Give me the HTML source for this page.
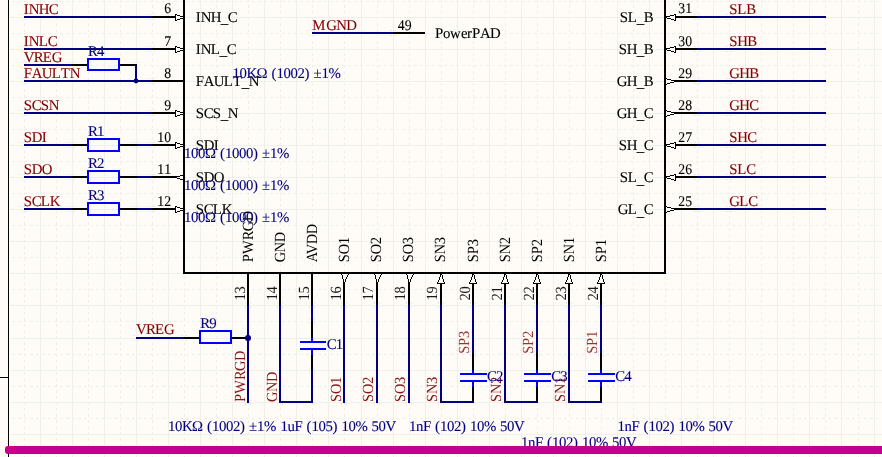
<!DOCTYPE html>
<html lang="en">
<head>
<meta charset="utf-8">
<title>Schematic</title>
<style>
html,body{margin:0;padding:0;background:#FFFCF8;overflow:hidden}
svg{display:block;position:absolute;left:0;top:0}
svg text{font-family:"Liberation Serif","Times New Roman",serif;font-size:14.8px;white-space:pre;font-kerning:none;font-variant-ligatures:none;text-rendering:geometricPrecision;stroke-width:.1px;stroke-linejoin:round}
svg text.r{font-size:15.5px;fill-opacity:.92}
svg text.lt{fill-opacity:.8}
svg text.pn{fill-opacity:1}
svg text.pd{fill-opacity:.9}
svg .d{stroke:#EEF0EA;stroke-width:1;stroke-dasharray:3 3;fill:none}
svg .aa{shape-rendering:geometricPrecision}
</style>
</head>
<body>
<svg width="882" height="457" viewBox="0 0 882 457" shape-rendering="crispEdges">
<defs><path id="vd" d="M0 -1h1v3h-1zM0 5h1v3h-1zM0 11h1v3h-1zM0 17h1v3h-1zM0 23h1v3h-1zM0 29h1v3h-1zM0 35h1v3h-1zM0 41h1v3h-1zM0 47h1v3h-1zM0 53h1v3h-1zM0 59h1v3h-1zM0 65h1v3h-1zM0 71h1v3h-1zM0 77h1v3h-1zM0 83h1v3h-1zM0 89h1v3h-1zM0 95h1v3h-1zM0 101h1v3h-1zM0 107h1v3h-1zM0 113h1v3h-1zM0 119h1v3h-1zM0 125h1v3h-1zM0 131h1v3h-1zM0 137h1v3h-1zM0 143h1v3h-1zM0 150h1v3h-1zM0 156h1v3h-1zM0 162h1v3h-1zM0 168h1v3h-1zM0 174h1v3h-1zM0 180h1v3h-1zM0 186h1v3h-1zM0 192h1v3h-1zM0 198h1v3h-1zM0 204h1v3h-1zM0 210h1v3h-1zM0 216h1v3h-1zM0 222h1v3h-1zM0 228h1v3h-1zM0 234h1v3h-1zM0 240h1v3h-1zM0 246h1v3h-1zM0 252h1v3h-1zM0 258h1v3h-1zM0 264h1v3h-1zM0 270h1v3h-1zM0 276h1v3h-1zM0 282h1v3h-1zM0 288h1v3h-1zM0 294h1v3h-1zM0 300h1v3h-1zM0 306h1v3h-1zM0 312h1v3h-1zM0 318h1v3h-1zM0 324h1v3h-1zM0 330h1v3h-1zM0 336h1v3h-1zM0 342h1v3h-1zM0 348h1v3h-1zM0 354h1v3h-1zM0 360h1v3h-1zM0 366h1v3h-1zM0 372h1v3h-1zM0 378h1v3h-1zM0 384h1v3h-1zM0 390h1v3h-1zM0 396h1v3h-1zM0 402h1v3h-1zM0 408h1v3h-1zM0 414h1v3h-1zM0 420h1v3h-1zM0 426h1v3h-1zM0 432h1v3h-1zM0 438h1v3h-1zM0 444h1v3h-1zM0 450h1v3h-1zM0 456h1v3h-1z"/></defs>
<g fill="#EEF0EA" stroke="none"><use href="#vd" x="24"/><rect x="40" y="0" width="1" height="457"/><use href="#vd" x="56"/><rect x="72" y="0" width="1" height="457"/><use href="#vd" x="88"/><rect x="104" y="0" width="1" height="457"/><use href="#vd" x="120"/><rect x="136" y="0" width="1" height="457"/><use href="#vd" x="152"/><rect x="168" y="0" width="1" height="457"/><use href="#vd" x="184"/><rect x="200" y="0" width="1" height="457"/><use href="#vd" x="216"/><rect x="232" y="0" width="1" height="457"/><use href="#vd" x="248"/><rect x="264" y="0" width="1" height="457"/><use href="#vd" x="280"/><rect x="296" y="0" width="1" height="457"/><use href="#vd" x="312"/><rect x="328" y="0" width="1" height="457"/><use href="#vd" x="344"/><rect x="361" y="0" width="1" height="457"/><use href="#vd" x="377"/><rect x="393" y="0" width="1" height="457"/><use href="#vd" x="409"/><rect x="425" y="0" width="1" height="457"/><use href="#vd" x="441"/><rect x="457" y="0" width="1" height="457"/><use href="#vd" x="473"/><rect x="489" y="0" width="1" height="457"/><use href="#vd" x="505"/><rect x="521" y="0" width="1" height="457"/><use href="#vd" x="537"/><rect x="553" y="0" width="1" height="457"/><use href="#vd" x="569"/><rect x="585" y="0" width="1" height="457"/><use href="#vd" x="601"/><rect x="617" y="0" width="1" height="457"/><use href="#vd" x="633"/><rect x="649" y="0" width="1" height="457"/><use href="#vd" x="665"/><rect x="681" y="0" width="1" height="457"/><use href="#vd" x="697"/><rect x="713" y="0" width="1" height="457"/><use href="#vd" x="729"/><rect x="745" y="0" width="1" height="457"/><use href="#vd" x="761"/><rect x="777" y="0" width="1" height="457"/><use href="#vd" x="793"/><rect x="809" y="0" width="1" height="457"/><use href="#vd" x="825"/><rect x="841" y="0" width="1" height="457"/><use href="#vd" x="858"/><rect x="874" y="0" width="1" height="457"/><line x1="12" y1="1.5" x2="882" y2="1.5" class="d"/><rect x="10" y="17" width="872" height="1"/><line x1="12" y1="33.5" x2="882" y2="33.5" class="d"/><rect x="10" y="49" width="872" height="1"/><line x1="12" y1="65.5" x2="882" y2="65.5" class="d"/><rect x="10" y="81" width="872" height="1"/><line x1="12" y1="97.5" x2="882" y2="97.5" class="d"/><rect x="10" y="113" width="872" height="1"/><line x1="12" y1="129.5" x2="882" y2="129.5" class="d"/><rect x="10" y="145" width="872" height="1"/><line x1="12" y1="161.5" x2="882" y2="161.5" class="d"/><rect x="10" y="177" width="872" height="1"/><line x1="12" y1="193.5" x2="882" y2="193.5" class="d"/><rect x="10" y="209" width="872" height="1"/><line x1="12" y1="225.5" x2="882" y2="225.5" class="d"/><rect x="10" y="241" width="872" height="1"/><line x1="12" y1="257.5" x2="882" y2="257.5" class="d"/><rect x="10" y="273" width="872" height="1"/><line x1="12" y1="289.5" x2="882" y2="289.5" class="d"/><rect x="10" y="305" width="872" height="1"/><line x1="12" y1="321.5" x2="882" y2="321.5" class="d"/><rect x="10" y="338" width="872" height="1"/><line x1="12" y1="354.5" x2="882" y2="354.5" class="d"/><rect x="10" y="370" width="872" height="1"/><line x1="12" y1="386.5" x2="882" y2="386.5" class="d"/><rect x="10" y="402" width="872" height="1"/><line x1="12" y1="418.5" x2="882" y2="418.5" class="d"/><rect x="10" y="434" width="872" height="1"/><line x1="12" y1="450.5" x2="882" y2="450.5" class="d"/></g>
<rect x="8" y="0" width="1" height="457" fill="#000000"/>
<rect x="0" y="377" width="8" height="1" fill="#000000"/>
<rect x="24" y="16" width="128" height="2" fill="#000080"/>
<rect x="152" y="16" width="32" height="2" fill="#000000"/>
<path d="M149 14h2v1h-2zM153 14h2v1h-2zM149 19h2v1h-2zM153 19h2v1h-2z" fill="#E3EBF6"/>
<path d="M21 14h2v1h-2zM25 14h2v1h-2zM21 19h2v1h-2zM25 19h2v1h-2z" fill="#E3EBF6"/>
<text x="0 5 15 25" y="0" fill="#800000" stroke="#800000" transform="translate(23.747 13.675)">INHC</text>
<text x="-7.263" y="0" fill="#000000" stroke="#000000" transform="translate(170.967 13.475) scale(0.93 1)">6</text>
<text x="0 5 15 25 32" y="0" dy="0 0 0 1.4 -1.4" fill="#000000" stroke="#000000" transform="translate(195.867 21.775)">INH_C</text>
<path d="M176 15h7v5h-7z" fill="#FFFCF8"/>
<path d="M175 14h1v7h-1zM176 14h1v1h-1zM176 20h1v1h-1zM177 15h3v1h-3zM180 16h3v1h-3zM180 18h3v1h-3zM177 19h3v1h-3z" fill="#000000"/>
<rect x="24" y="48" width="128" height="2" fill="#000080"/>
<rect x="152" y="48" width="32" height="2" fill="#000000"/>
<path d="M149 46h2v1h-2zM153 46h2v1h-2zM149 51h2v1h-2zM153 51h2v1h-2z" fill="#E3EBF6"/>
<path d="M21 46h2v1h-2zM25 46h2v1h-2zM21 51h2v1h-2zM25 51h2v1h-2z" fill="#E3EBF6"/>
<text x="0 5 15 24" y="0" fill="#800000" stroke="#800000" transform="translate(23.747 45.739)">INLC</text>
<text x="-7.263" y="0" fill="#000000" stroke="#000000" transform="translate(170.967 45.539) scale(0.93 1)">7</text>
<text x="0 5 15 24 31" y="0" dy="0 0 0 1.4 -1.4" fill="#000000" stroke="#000000" transform="translate(195.867 53.839)">INL_C</text>
<path d="M176 47h7v5h-7z" fill="#FFFCF8"/>
<path d="M175 46h1v7h-1zM176 46h1v1h-1zM176 52h1v1h-1zM177 47h3v1h-3zM180 48h3v1h-3zM180 50h3v1h-3zM177 51h3v1h-3z" fill="#000000"/>
<rect x="24" y="80" width="128" height="2" fill="#000080"/>
<rect x="152" y="80" width="32" height="2" fill="#000000"/>
<path d="M149 78h2v1h-2zM153 78h2v1h-2zM149 83h2v1h-2zM153 83h2v1h-2z" fill="#E3EBF6"/>
<path d="M21 78h2v1h-2zM25 78h2v1h-2zM21 83h2v1h-2zM25 83h2v1h-2z" fill="#E3EBF6"/>
<text x="0 8 18 28 37 46" y="0" fill="#800000" stroke="#800000" transform="translate(23.747 77.803)">FAULTN</text>
<text x="-7.263" y="0" fill="#000000" stroke="#000000" transform="translate(170.967 77.603) scale(0.93 1)">8</text>
<text x="0 8 18 28 37 46 53" y="0" dy="0 0 0 0 0 1.4 -1.4" fill="#000000" stroke="#000000" transform="translate(195.867 85.903)">FAULT_N</text>
<rect x="24" y="112" width="128" height="2" fill="#000080"/>
<rect x="152" y="112" width="32" height="2" fill="#000000"/>
<path d="M149 110h2v1h-2zM153 110h2v1h-2zM149 115h2v1h-2zM153 115h2v1h-2z" fill="#E3EBF6"/>
<path d="M21 110h2v1h-2zM25 110h2v1h-2zM21 115h2v1h-2zM25 115h2v1h-2z" fill="#E3EBF6"/>
<text x="0 8 17 25" y="0" fill="#800000" stroke="#800000" transform="translate(23.747 109.867)">SCSN</text>
<text x="-7.263" y="0" fill="#000000" stroke="#000000" transform="translate(170.967 109.667) scale(0.93 1)">9</text>
<text x="0 8 17 25 32" y="0" dy="0 0 0 1.4 -1.4" fill="#000000" stroke="#000000" transform="translate(195.867 117.967)">SCS_N</text>
<path d="M176 111h7v5h-7z" fill="#FFFCF8"/>
<path d="M175 110h1v7h-1zM176 110h1v1h-1zM176 116h1v1h-1zM177 111h3v1h-3zM180 112h3v1h-3zM180 114h3v1h-3zM177 115h3v1h-3z" fill="#000000"/>
<rect x="24" y="144" width="48" height="2" fill="#000080"/>
<rect x="72" y="144" width="16" height="2" fill="#000000"/>
<rect x="119" y="144" width="18" height="2" fill="#000000"/>
<rect x="88" y="139" width="31" height="12" fill="none" stroke="#0000FF" stroke-width="2"/>
<text x="0 9" y="0" fill="#000080" stroke="#000080" transform="translate(88.075 135.731)">R1</text>
<path d="M69 142h2v1h-2zM73 142h2v1h-2zM69 147h2v1h-2zM73 147h2v1h-2z" fill="#E3EBF6"/>
<path d="M133 142h2v1h-2zM137 142h2v1h-2zM133 147h2v1h-2zM137 147h2v1h-2z" fill="#E3EBF6"/>
<rect x="137" y="144" width="15" height="2" fill="#000080"/>
<rect x="152" y="144" width="32" height="2" fill="#000000"/>
<path d="M149 142h2v1h-2zM153 142h2v1h-2zM149 147h2v1h-2zM153 147h2v1h-2z" fill="#E3EBF6"/>
<path d="M21 142h2v1h-2zM25 142h2v1h-2zM21 147h2v1h-2zM25 147h2v1h-2z" fill="#E3EBF6"/>
<text x="0 8 18" y="0" fill="#800000" stroke="#800000" transform="translate(23.747 141.931)">SDI</text>
<text x="-14.79 -7.263" y="0" fill="#000000" stroke="#000000" transform="translate(170.967 141.731) scale(0.93 1)">10</text>
<text x="0 8 18" y="0" fill="#000000" stroke="#000000" transform="translate(195.867 150.031)">SDI</text>
<path d="M176 143h7v5h-7z" fill="#FFFCF8"/>
<path d="M175 142h1v7h-1zM176 142h1v1h-1zM176 148h1v1h-1zM177 143h3v1h-3zM180 144h3v1h-3zM180 146h3v1h-3zM177 147h3v1h-3z" fill="#000000"/>
<rect x="24" y="176" width="48" height="2" fill="#000080"/>
<rect x="72" y="176" width="16" height="2" fill="#000000"/>
<rect x="119" y="176" width="18" height="2" fill="#000000"/>
<rect x="88" y="171" width="31" height="12" fill="none" stroke="#0000FF" stroke-width="2"/>
<text x="0 9" y="0" fill="#000080" stroke="#000080" transform="translate(88.075 167.795)">R2</text>
<path d="M69 174h2v1h-2zM73 174h2v1h-2zM69 179h2v1h-2zM73 179h2v1h-2z" fill="#E3EBF6"/>
<path d="M133 174h2v1h-2zM137 174h2v1h-2zM133 179h2v1h-2zM137 179h2v1h-2z" fill="#E3EBF6"/>
<rect x="137" y="176" width="15" height="2" fill="#000080"/>
<rect x="152" y="176" width="32" height="2" fill="#000000"/>
<path d="M149 174h2v1h-2zM153 174h2v1h-2zM149 179h2v1h-2zM153 179h2v1h-2z" fill="#E3EBF6"/>
<path d="M21 174h2v1h-2zM25 174h2v1h-2zM21 179h2v1h-2zM25 179h2v1h-2z" fill="#E3EBF6"/>
<text x="0 8 18" y="0" fill="#800000" stroke="#800000" transform="translate(23.747 173.995)">SDO</text>
<text x="-14.79 -7.263" y="0" fill="#000000" stroke="#000000" transform="translate(170.967 173.795) scale(0.93 1)">11</text>
<text x="0 8 18" y="0" fill="#000000" stroke="#000000" transform="translate(195.867 182.095)">SDO</text>
<path d="M180 175h3v5h-3zM177 177h3v1h-3z" fill="#FFFCF8"/>
<path d="M180 175h3v1h-3zM177 178h3v1h-3zM180 179h3v1h-3z" fill="#000000"/>
<rect x="24" y="208" width="48" height="2" fill="#000080"/>
<rect x="72" y="208" width="16" height="2" fill="#000000"/>
<rect x="119" y="208" width="18" height="2" fill="#000000"/>
<rect x="88" y="203" width="31" height="12" fill="none" stroke="#0000FF" stroke-width="2"/>
<text x="0 9" y="0" fill="#000080" stroke="#000080" transform="translate(88.075 199.859)">R3</text>
<path d="M69 206h2v1h-2zM73 206h2v1h-2zM69 211h2v1h-2zM73 211h2v1h-2z" fill="#E3EBF6"/>
<path d="M133 206h2v1h-2zM137 206h2v1h-2zM133 211h2v1h-2zM137 211h2v1h-2z" fill="#E3EBF6"/>
<rect x="137" y="208" width="15" height="2" fill="#000080"/>
<rect x="152" y="208" width="32" height="2" fill="#000000"/>
<path d="M149 206h2v1h-2zM153 206h2v1h-2zM149 211h2v1h-2zM153 211h2v1h-2z" fill="#E3EBF6"/>
<path d="M21 206h2v1h-2zM25 206h2v1h-2zM21 211h2v1h-2zM25 211h2v1h-2z" fill="#E3EBF6"/>
<text x="0 8 17 26" y="0" fill="#800000" stroke="#800000" transform="translate(23.747 206.059)">SCLK</text>
<text x="-14.79 -7.263" y="0" fill="#000000" stroke="#000000" transform="translate(170.967 205.859) scale(0.93 1)">12</text>
<text x="0 8 17 26" y="0" fill="#000000" stroke="#000000" transform="translate(195.867 214.159)">SCLK</text>
<path d="M176 207h7v5h-7z" fill="#FFFCF8"/>
<path d="M175 206h1v7h-1zM176 206h1v1h-1zM176 212h1v1h-1zM177 207h3v1h-3zM180 208h3v1h-3zM180 210h3v1h-3zM177 211h3v1h-3z" fill="#000000"/>
<rect x="24" y="64" width="48" height="2" fill="#000080"/>
<rect x="72" y="64" width="16" height="2" fill="#000000"/>
<rect x="119" y="64" width="18" height="2" fill="#000000"/>
<rect x="88" y="59" width="31" height="11" fill="none" stroke="#0000FF" stroke-width="2"/>
<text x="0 9" y="0" fill="#000080" stroke="#000080" transform="translate(88.075 55.571)">R4</text>
<path d="M69 62h2v1h-2zM73 62h2v1h-2zM69 67h2v1h-2zM73 67h2v1h-2z" fill="#E3EBF6"/>
<path d="M133 62h2v1h-2zM137 62h2v1h-2zM133 67h2v1h-2zM137 67h2v1h-2z" fill="#E3EBF6"/>
<rect x="135" y="66" width="2" height="15" fill="#000080"/>
<circle cx="136" cy="81" r="2.4" fill="#000080" class="aa"/>
<path d="M21 62h2v1h-2zM25 62h2v1h-2zM21 67h2v1h-2zM25 67h2v1h-2z" fill="#E3EBF6"/>
<text x="0 10 19 28" y="0" fill="#800000" stroke="#800000" transform="translate(23.747 61.771)">VREG</text>
<rect x="697" y="16" width="129" height="2" fill="#000080"/>
<rect x="665" y="16" width="32" height="2" fill="#000000"/>
<path d="M694 14h2v1h-2zM698 14h2v1h-2zM694 19h2v1h-2zM698 19h2v1h-2z" fill="#E3EBF6"/>
<path d="M726 14h2v1h-2zM730 14h2v1h-2zM726 19h2v1h-2zM730 19h2v1h-2z" fill="#E3EBF6"/>
<text x="0 8 17" y="0" fill="#800000" stroke="#800000" transform="translate(729.255 13.675)">SLB</text>
<text x="0.2634 7.79" y="0" fill="#000000" stroke="#000000" transform="translate(678.127 13.475) scale(0.93 1)">31</text>
<text x="-33 -25 -16 -9" y="0" dy="0 0 1.4 -1.4" fill="#000000" stroke="#000000" transform="translate(652.827 21.775)">SL_B</text>
<path d="M666 15h9v5h-9z" fill="#FFFCF8"/>
<path d="M674 14h2v1h-2zM675 15h1v5h-1zM674 20h2v1h-2zM670 15h4v1h-4zM666 16h4v1h-4zM666 17h1v1h-1zM667 18h4v1h-4zM671 19h3v1h-3z" fill="#000000"/>
<rect x="697" y="48" width="129" height="2" fill="#000080"/>
<rect x="665" y="48" width="32" height="2" fill="#000000"/>
<path d="M694 46h2v1h-2zM698 46h2v1h-2zM694 51h2v1h-2zM698 51h2v1h-2z" fill="#E3EBF6"/>
<path d="M726 46h2v1h-2zM730 46h2v1h-2zM726 51h2v1h-2zM730 51h2v1h-2z" fill="#E3EBF6"/>
<text x="0 8 18" y="0" fill="#800000" stroke="#800000" transform="translate(729.255 45.739)">SHB</text>
<text x="0.2634 7.79" y="0" fill="#000000" stroke="#000000" transform="translate(678.127 45.539) scale(0.93 1)">30</text>
<text x="-34 -26 -16 -9" y="0" dy="0 0 1.4 -1.4" fill="#000000" stroke="#000000" transform="translate(652.827 53.839)">SH_B</text>
<path d="M666 47h9v5h-9z" fill="#FFFCF8"/>
<path d="M674 46h2v1h-2zM675 47h1v5h-1zM674 52h2v1h-2zM670 47h4v1h-4zM666 48h4v1h-4zM666 49h1v1h-1zM667 50h4v1h-4zM671 51h3v1h-3z" fill="#000000"/>
<rect x="697" y="80" width="129" height="2" fill="#000080"/>
<rect x="665" y="80" width="32" height="2" fill="#000000"/>
<path d="M694 78h2v1h-2zM698 78h2v1h-2zM694 83h2v1h-2zM698 83h2v1h-2z" fill="#E3EBF6"/>
<path d="M726 78h2v1h-2zM730 78h2v1h-2zM726 83h2v1h-2zM730 83h2v1h-2z" fill="#E3EBF6"/>
<text x="0 10 20" y="0" fill="#800000" stroke="#800000" transform="translate(729.255 77.803)">GHB</text>
<text x="0.2634 7.79" y="0" fill="#000000" stroke="#000000" transform="translate(678.127 77.603) scale(0.93 1)">29</text>
<text x="-36 -26 -16 -9" y="0" dy="0 0 1.4 -1.4" fill="#000000" stroke="#000000" transform="translate(652.827 85.903)">GH_B</text>
<path d="M666 78h5v7h-5zM671 81h3v1h-3z" fill="#FFFCF8"/>
<path d="M666 78h1v1h-1zM667 79h4v1h-4zM670 82h4v1h-4zM667 83h3v1h-3zM666 84h1v1h-1z" fill="#000000"/>
<rect x="697" y="112" width="129" height="2" fill="#000080"/>
<rect x="665" y="112" width="32" height="2" fill="#000000"/>
<path d="M694 110h2v1h-2zM698 110h2v1h-2zM694 115h2v1h-2zM698 115h2v1h-2z" fill="#E3EBF6"/>
<path d="M726 110h2v1h-2zM730 110h2v1h-2zM726 115h2v1h-2zM730 115h2v1h-2z" fill="#E3EBF6"/>
<text x="0 10 20" y="0" fill="#800000" stroke="#800000" transform="translate(729.255 109.867)">GHC</text>
<text x="0.2634 7.79" y="0" fill="#000000" stroke="#000000" transform="translate(678.127 109.667) scale(0.93 1)">28</text>
<text x="-36 -26 -16 -9" y="0" dy="0 0 1.4 -1.4" fill="#000000" stroke="#000000" transform="translate(652.827 117.967)">GH_C</text>
<path d="M666 110h5v7h-5zM671 113h3v1h-3z" fill="#FFFCF8"/>
<path d="M666 110h1v1h-1zM667 111h4v1h-4zM670 114h4v1h-4zM667 115h3v1h-3zM666 116h1v1h-1z" fill="#000000"/>
<rect x="697" y="144" width="129" height="2" fill="#000080"/>
<rect x="665" y="144" width="32" height="2" fill="#000000"/>
<path d="M694 142h2v1h-2zM698 142h2v1h-2zM694 147h2v1h-2zM698 147h2v1h-2z" fill="#E3EBF6"/>
<path d="M726 142h2v1h-2zM730 142h2v1h-2zM726 147h2v1h-2zM730 147h2v1h-2z" fill="#E3EBF6"/>
<text x="0 8 18" y="0" fill="#800000" stroke="#800000" transform="translate(729.255 141.931)">SHC</text>
<text x="0.2634 7.79" y="0" fill="#000000" stroke="#000000" transform="translate(678.127 141.731) scale(0.93 1)">27</text>
<text x="-34 -26 -16 -9" y="0" dy="0 0 1.4 -1.4" fill="#000000" stroke="#000000" transform="translate(652.827 150.031)">SH_C</text>
<path d="M666 143h9v5h-9z" fill="#FFFCF8"/>
<path d="M674 142h2v1h-2zM675 143h1v5h-1zM674 148h2v1h-2zM670 143h4v1h-4zM666 144h4v1h-4zM666 145h1v1h-1zM667 146h4v1h-4zM671 147h3v1h-3z" fill="#000000"/>
<rect x="697" y="176" width="129" height="2" fill="#000080"/>
<rect x="665" y="176" width="32" height="2" fill="#000000"/>
<path d="M694 174h2v1h-2zM698 174h2v1h-2zM694 179h2v1h-2zM698 179h2v1h-2z" fill="#E3EBF6"/>
<path d="M726 174h2v1h-2zM730 174h2v1h-2zM726 179h2v1h-2zM730 179h2v1h-2z" fill="#E3EBF6"/>
<text x="0 8 17" y="0" fill="#800000" stroke="#800000" transform="translate(729.255 173.995)">SLC</text>
<text x="0.2634 7.79" y="0" fill="#000000" stroke="#000000" transform="translate(678.127 173.795) scale(0.93 1)">26</text>
<text x="-33 -25 -16 -9" y="0" dy="0 0 1.4 -1.4" fill="#000000" stroke="#000000" transform="translate(652.827 182.095)">SL_C</text>
<path d="M666 175h9v5h-9z" fill="#FFFCF8"/>
<path d="M674 174h2v1h-2zM675 175h1v5h-1zM674 180h2v1h-2zM670 175h4v1h-4zM666 176h4v1h-4zM666 177h1v1h-1zM667 178h4v1h-4zM671 179h3v1h-3z" fill="#000000"/>
<rect x="697" y="208" width="129" height="2" fill="#000080"/>
<rect x="665" y="208" width="32" height="2" fill="#000000"/>
<path d="M694 206h2v1h-2zM698 206h2v1h-2zM694 211h2v1h-2zM698 211h2v1h-2z" fill="#E3EBF6"/>
<path d="M726 206h2v1h-2zM730 206h2v1h-2zM726 211h2v1h-2zM730 211h2v1h-2z" fill="#E3EBF6"/>
<text x="0 10 19" y="0" fill="#800000" stroke="#800000" transform="translate(729.255 206.059)">GLC</text>
<text x="0.2634 7.79" y="0" fill="#000000" stroke="#000000" transform="translate(678.127 205.859) scale(0.93 1)">25</text>
<text x="-35 -25 -16 -9" y="0" dy="0 0 1.4 -1.4" fill="#000000" stroke="#000000" transform="translate(652.827 214.159)">GL_C</text>
<path d="M666 206h5v7h-5zM671 209h3v1h-3z" fill="#FFFCF8"/>
<path d="M666 206h1v1h-1zM667 207h4v1h-4zM670 210h4v1h-4zM667 211h3v1h-3zM666 212h1v1h-1z" fill="#000000"/>
<rect x="312" y="32" width="81" height="2" fill="#000080"/>
<rect x="393" y="32" width="32" height="2" fill="#000000"/>
<path d="M390 30h2v1h-2zM394 30h2v1h-2zM390 35h2v1h-2zM394 35h2v1h-2z" fill="#E3EBF6"/>
<path d="M309 30h2v1h-2zM313 30h2v1h-2zM309 35h2v1h-2zM313 35h2v1h-2z" fill="#E3EBF6"/>
<text x="0 14 24 34" y="0" fill="#800000" stroke="#800000" transform="translate(312.323 29.707)">MGND</text>
<text x="-14.79 -7.263" y="0" fill="#000000" stroke="#000000" transform="translate(411.447 29.507) scale(0.93 1)">49</text>
<text x="0 8 15 26 32 37 45 55" y="0" fill="#000000" stroke="#000000" transform="translate(435.047 37.807)">PowerPAD</text>
<rect x="247" y="305" width="2" height="98" fill="#000080"/>
<rect x="247" y="273" width="2" height="32" fill="#000000"/>
<path d="M245 302h1v2h-1zM245 306h1v2h-1zM250 302h1v2h-1zM250 306h1v2h-1z" fill="#E3EBF6"/>
<text class="pn r" x="0.3011 9.129 23.99 33.71 44.46" y="0" fill="#000000" transform="translate(253.095 262.5) rotate(-90) scale(0.93 1)">PWRGD</text>
<text class="pd r" x="-14.79 -7.263" y="0" fill="#000000" transform="translate(245.095 286.7) rotate(-90) scale(0.93 1)">13</text>
<path d="M245 399h1v2h-1zM245 403h1v2h-1zM250 399h1v2h-1zM250 403h1v2h-1z" fill="#E3EBF6"/>
<text class="r" x="0.3011 9.129 23.99 33.71 44.46" y="0" fill="#800000" transform="translate(244.595 402.243) rotate(-90) scale(0.93 1)">PWRGD</text>
<rect x="279" y="305" width="2" height="98" fill="#000080"/>
<rect x="279" y="273" width="2" height="32" fill="#000000"/>
<path d="M277 302h1v2h-1zM277 306h1v2h-1zM282 302h1v2h-1zM282 306h1v2h-1z" fill="#E3EBF6"/>
<text class="pn r" x="0.3763 11.13 21.88" y="0" fill="#000000" transform="translate(285.159 262.5) rotate(-90) scale(0.93 1)">GND</text>
<text class="pd r" x="-14.79 -7.263" y="0" fill="#000000" transform="translate(277.159 286.7) rotate(-90) scale(0.93 1)">14</text>
<path d="M277 399h1v2h-1zM277 403h1v2h-1zM282 399h1v2h-1zM282 403h1v2h-1z" fill="#E3EBF6"/>
<text class="r" x="0.3763 11.13 21.88" y="0" fill="#800000" transform="translate(276.659 402.243) rotate(-90) scale(0.93 1)">GND</text>
<rect x="311" y="305" width="2" height="98" fill="#000080"/>
<rect x="311" y="273" width="2" height="32" fill="#000000"/>
<path d="M309 302h1v2h-1zM309 306h1v2h-1zM314 302h1v2h-1zM314 306h1v2h-1z" fill="#E3EBF6"/>
<text class="pn r" x="0.3763 8.978 19.73 30.48" y="0" fill="#000000" transform="translate(317.223 262.5) rotate(-90) scale(0.93 1)">AVDD</text>
<text class="pd r" x="-14.79 -7.263" y="0" fill="#000000" transform="translate(309.223 286.7) rotate(-90) scale(0.93 1)">15</text>
<rect x="311" y="321" width="2" height="50" fill="#FFFCF8"/>
<rect x="311" y="321" width="2" height="17" fill="#000000"/>
<rect x="311" y="338" width="2" height="3" fill="#0000FF"/>
<rect x="311" y="350" width="2" height="5" fill="#0000FF"/>
<rect x="311" y="355" width="2" height="15" fill="#000000"/>
<rect x="311" y="370" width="2" height="33" fill="#000080"/>
<rect x="300" y="341" width="26" height="2" fill="#0000FF"/>
<rect x="300" y="348" width="26" height="2" fill="#0000FF"/>
<path d="M309 318h1v2h-1zM309 322h1v2h-1zM314 318h1v2h-1zM314 322h1v2h-1z" fill="#E3EBF6"/>
<path d="M309 367h1v2h-1zM309 371h1v2h-1zM314 367h1v2h-1zM314 371h1v2h-1z" fill="#E3EBF6"/>
<rect x="343" y="305" width="2" height="98" fill="#000080"/>
<rect x="343" y="273" width="2" height="32" fill="#000000"/>
<path d="M341 302h1v2h-1zM341 306h1v2h-1zM346 302h1v2h-1zM346 306h1v2h-1z" fill="#E3EBF6"/>
<text class="pn r" x="0.3011 8.978 19.62" y="0" fill="#000000" transform="translate(349.287 262.5) rotate(-90) scale(0.93 1)">SO1</text>
<text class="pd r" x="-14.79 -7.263" y="0" fill="#000000" transform="translate(341.287 286.7) rotate(-90) scale(0.93 1)">16</text>
<path d="M341 399h1v2h-1zM341 403h1v2h-1zM346 399h1v2h-1zM346 403h1v2h-1z" fill="#E3EBF6"/>
<text class="r" x="0.3011 8.978 19.62" y="0" fill="#800000" transform="translate(340.787 402.243) rotate(-90) scale(0.93 1)">SO1</text>
<path d="M342 274h5v8h-5z" fill="#FFFCF8"/>
<path d="M341 274h1v1h-1zM342 275h1v4h-1zM343 279h1v3h-1zM348 274h1v1h-1zM347 275h1v2h-1zM346 277h1v2h-1zM345 279h1v3h-1z" fill="#000000"/>
<rect x="376" y="305" width="2" height="98" fill="#000080"/>
<rect x="376" y="273" width="2" height="32" fill="#000000"/>
<path d="M374 302h1v2h-1zM374 306h1v2h-1zM379 302h1v2h-1zM379 306h1v2h-1z" fill="#E3EBF6"/>
<text class="pn r" x="0.3011 8.978 19.62" y="0" fill="#000000" transform="translate(381.351 262.5) rotate(-90) scale(0.93 1)">SO2</text>
<text class="pd r" x="-14.79 -7.263" y="0" fill="#000000" transform="translate(373.351 286.7) rotate(-90) scale(0.93 1)">17</text>
<path d="M374 399h1v2h-1zM374 403h1v2h-1zM379 399h1v2h-1zM379 403h1v2h-1z" fill="#E3EBF6"/>
<text class="r" x="0.3011 8.978 19.62" y="0" fill="#800000" transform="translate(372.851 402.243) rotate(-90) scale(0.93 1)">SO2</text>
<path d="M375 274h5v8h-5z" fill="#FFFCF8"/>
<path d="M374 274h1v1h-1zM375 275h1v4h-1zM376 279h1v3h-1zM381 274h1v1h-1zM380 275h1v2h-1zM379 277h1v2h-1zM378 279h1v3h-1z" fill="#000000"/>
<rect x="408" y="305" width="2" height="98" fill="#000080"/>
<rect x="408" y="273" width="2" height="32" fill="#000000"/>
<path d="M406 302h1v2h-1zM406 306h1v2h-1zM411 302h1v2h-1zM411 306h1v2h-1z" fill="#E3EBF6"/>
<text class="pn r" x="0.3011 8.978 19.62" y="0" fill="#000000" transform="translate(413.415 262.5) rotate(-90) scale(0.93 1)">SO3</text>
<text class="pd r" x="-14.79 -7.263" y="0" fill="#000000" transform="translate(405.415 286.7) rotate(-90) scale(0.93 1)">18</text>
<path d="M406 399h1v2h-1zM406 403h1v2h-1zM411 399h1v2h-1zM411 403h1v2h-1z" fill="#E3EBF6"/>
<text class="r" x="0.3011 8.978 19.62" y="0" fill="#800000" transform="translate(404.915 402.243) rotate(-90) scale(0.93 1)">SO3</text>
<path d="M407 274h5v8h-5z" fill="#FFFCF8"/>
<path d="M406 274h1v1h-1zM407 275h1v4h-1zM408 279h1v3h-1zM413 274h1v1h-1zM412 275h1v2h-1zM411 277h1v2h-1zM410 279h1v3h-1z" fill="#000000"/>
<rect x="440" y="305" width="2" height="98" fill="#000080"/>
<rect x="440" y="273" width="2" height="32" fill="#000000"/>
<path d="M438 302h1v2h-1zM438 306h1v2h-1zM443 302h1v2h-1zM443 306h1v2h-1z" fill="#E3EBF6"/>
<text class="pn r" x="0.3011 8.978 19.62" y="0" fill="#000000" transform="translate(445.479 262.5) rotate(-90) scale(0.93 1)">SN3</text>
<text class="pd r" x="-14.79 -7.263" y="0" fill="#000000" transform="translate(437.479 286.7) rotate(-90) scale(0.93 1)">19</text>
<path d="M438 399h1v2h-1zM438 403h1v2h-1zM443 399h1v2h-1zM443 403h1v2h-1z" fill="#E3EBF6"/>
<text class="r" x="0.3011 8.978 19.62" y="0" fill="#800000" transform="translate(436.979 402.243) rotate(-90) scale(0.93 1)">SN3</text>
<path d="M438 274h6v10h-6z" fill="#FFFCF8"/>
<path d="M440 274h2v1h-2zM440 275h1v2h-1zM439 277h1v3h-1zM438 280h1v2h-1zM437 282h1v1h-1zM442 275h1v4h-1zM443 279h1v3h-1zM444 282h1v1h-1zM437 283h8v1h-8z" fill="#000000"/>
<rect x="472" y="305" width="2" height="98" fill="#000080"/>
<rect x="472" y="273" width="2" height="32" fill="#000000"/>
<path d="M470 302h1v2h-1zM470 306h1v2h-1zM475 302h1v2h-1zM475 306h1v2h-1z" fill="#E3EBF6"/>
<text class="pn r" x="0.3011 8.903 17.47" y="0" fill="#000000" transform="translate(477.543 262.5) rotate(-90) scale(0.93 1)">SP3</text>
<text class="pd r" x="-14.79 -7.263" y="0" fill="#000000" transform="translate(469.543 286.7) rotate(-90) scale(0.93 1)">20</text>
<path d="M470 351h1v2h-1zM470 355h1v2h-1zM475 351h1v2h-1zM475 355h1v2h-1z" fill="#E3EBF6"/>
<text class="lt r" x="0.3011 8.903 17.47" y="0" fill="#800000" transform="translate(469.043 354.147) rotate(-90) scale(0.93 1)">SP3</text>
<path d="M470 274h6v10h-6z" fill="#FFFCF8"/>
<path d="M472 274h2v1h-2zM472 275h1v2h-1zM471 277h1v3h-1zM470 280h1v2h-1zM469 282h1v1h-1zM474 275h1v4h-1zM475 279h1v3h-1zM476 282h1v1h-1zM469 283h8v1h-8z" fill="#000000"/>
<rect x="472" y="353" width="2" height="50" fill="#FFFCF8"/>
<rect x="472" y="353" width="2" height="17" fill="#000000"/>
<rect x="472" y="370" width="2" height="3" fill="#0000FF"/>
<rect x="472" y="382" width="2" height="5" fill="#0000FF"/>
<rect x="472" y="387" width="2" height="15" fill="#000000"/>
<rect x="460" y="373" width="27" height="2" fill="#0000FF"/>
<rect x="460" y="380" width="27" height="2" fill="#0000FF"/>
<path d="M470 350h1v2h-1zM470 354h1v2h-1zM475 350h1v2h-1zM475 354h1v2h-1z" fill="#E3EBF6"/>
<rect x="504" y="305" width="2" height="98" fill="#000080"/>
<rect x="504" y="273" width="2" height="32" fill="#000000"/>
<path d="M502 302h1v2h-1zM502 306h1v2h-1zM507 302h1v2h-1zM507 306h1v2h-1z" fill="#E3EBF6"/>
<text class="pn r" x="0.3011 8.978 19.62" y="0" fill="#000000" transform="translate(509.607 262.5) rotate(-90) scale(0.93 1)">SN2</text>
<text class="pd r" x="-14.79 -7.263" y="0" fill="#000000" transform="translate(501.607 286.7) rotate(-90) scale(0.93 1)">21</text>
<path d="M502 399h1v2h-1zM502 403h1v2h-1zM507 399h1v2h-1zM507 403h1v2h-1z" fill="#E3EBF6"/>
<text class="r" x="0.3011 8.978 19.62" y="0" fill="#800000" transform="translate(501.107 402.243) rotate(-90) scale(0.93 1)">SN2</text>
<path d="M502 274h6v10h-6z" fill="#FFFCF8"/>
<path d="M504 274h2v1h-2zM504 275h1v2h-1zM503 277h1v3h-1zM502 280h1v2h-1zM501 282h1v1h-1zM506 275h1v4h-1zM507 279h1v3h-1zM508 282h1v1h-1zM501 283h8v1h-8z" fill="#000000"/>
<rect x="536" y="305" width="2" height="98" fill="#000080"/>
<rect x="536" y="273" width="2" height="32" fill="#000000"/>
<path d="M534 302h1v2h-1zM534 306h1v2h-1zM539 302h1v2h-1zM539 306h1v2h-1z" fill="#E3EBF6"/>
<text class="pn r" x="0.3011 8.903 17.47" y="0" fill="#000000" transform="translate(541.671 262.5) rotate(-90) scale(0.93 1)">SP2</text>
<text class="pd r" x="-14.79 -7.263" y="0" fill="#000000" transform="translate(533.671 286.7) rotate(-90) scale(0.93 1)">22</text>
<path d="M534 351h1v2h-1zM534 355h1v2h-1zM539 351h1v2h-1zM539 355h1v2h-1z" fill="#E3EBF6"/>
<text class="lt r" x="0.3011 8.903 17.47" y="0" fill="#800000" transform="translate(533.171 354.147) rotate(-90) scale(0.93 1)">SP2</text>
<path d="M534 274h6v10h-6z" fill="#FFFCF8"/>
<path d="M536 274h2v1h-2zM536 275h1v2h-1zM535 277h1v3h-1zM534 280h1v2h-1zM533 282h1v1h-1zM538 275h1v4h-1zM539 279h1v3h-1zM540 282h1v1h-1zM533 283h8v1h-8z" fill="#000000"/>
<rect x="536" y="353" width="2" height="50" fill="#FFFCF8"/>
<rect x="536" y="353" width="2" height="17" fill="#000000"/>
<rect x="536" y="370" width="2" height="3" fill="#0000FF"/>
<rect x="536" y="382" width="2" height="5" fill="#0000FF"/>
<rect x="536" y="387" width="2" height="15" fill="#000000"/>
<rect x="524" y="373" width="27" height="2" fill="#0000FF"/>
<rect x="524" y="380" width="27" height="2" fill="#0000FF"/>
<path d="M534 350h1v2h-1zM534 354h1v2h-1zM539 350h1v2h-1zM539 354h1v2h-1z" fill="#E3EBF6"/>
<rect x="568" y="305" width="2" height="98" fill="#000080"/>
<rect x="568" y="273" width="2" height="32" fill="#000000"/>
<path d="M566 302h1v2h-1zM566 306h1v2h-1zM571 302h1v2h-1zM571 306h1v2h-1z" fill="#E3EBF6"/>
<text class="pn r" x="0.3011 8.978 19.62" y="0" fill="#000000" transform="translate(573.735 262.5) rotate(-90) scale(0.93 1)">SN1</text>
<text class="pd r" x="-14.79 -7.263" y="0" fill="#000000" transform="translate(565.735 286.7) rotate(-90) scale(0.93 1)">23</text>
<path d="M566 399h1v2h-1zM566 403h1v2h-1zM571 399h1v2h-1zM571 403h1v2h-1z" fill="#E3EBF6"/>
<text class="r" x="0.3011 8.978 19.62" y="0" fill="#800000" transform="translate(565.235 402.243) rotate(-90) scale(0.93 1)">SN1</text>
<path d="M566 274h6v10h-6z" fill="#FFFCF8"/>
<path d="M568 274h2v1h-2zM568 275h1v2h-1zM567 277h1v3h-1zM566 280h1v2h-1zM565 282h1v1h-1zM570 275h1v4h-1zM571 279h1v3h-1zM572 282h1v1h-1zM565 283h8v1h-8z" fill="#000000"/>
<rect x="600" y="305" width="2" height="98" fill="#000080"/>
<rect x="600" y="273" width="2" height="32" fill="#000000"/>
<path d="M598 302h1v2h-1zM598 306h1v2h-1zM603 302h1v2h-1zM603 306h1v2h-1z" fill="#E3EBF6"/>
<text class="pn r" x="0.3011 8.903 17.47" y="0" fill="#000000" transform="translate(605.799 262.5) rotate(-90) scale(0.93 1)">SP1</text>
<text class="pd r" x="-14.79 -7.263" y="0" fill="#000000" transform="translate(597.799 286.7) rotate(-90) scale(0.93 1)">24</text>
<path d="M598 351h1v2h-1zM598 355h1v2h-1zM603 351h1v2h-1zM603 355h1v2h-1z" fill="#E3EBF6"/>
<text class="lt r" x="0.3011 8.903 17.47" y="0" fill="#800000" transform="translate(597.299 354.147) rotate(-90) scale(0.93 1)">SP1</text>
<path d="M598 274h6v10h-6z" fill="#FFFCF8"/>
<path d="M600 274h2v1h-2zM600 275h1v2h-1zM599 277h1v3h-1zM598 280h1v2h-1zM597 282h1v1h-1zM602 275h1v4h-1zM603 279h1v3h-1zM604 282h1v1h-1zM597 283h8v1h-8z" fill="#000000"/>
<rect x="600" y="353" width="2" height="50" fill="#FFFCF8"/>
<rect x="600" y="353" width="2" height="17" fill="#000000"/>
<rect x="600" y="370" width="2" height="3" fill="#0000FF"/>
<rect x="600" y="382" width="2" height="5" fill="#0000FF"/>
<rect x="600" y="387" width="2" height="15" fill="#000000"/>
<rect x="588" y="373" width="27" height="2" fill="#0000FF"/>
<rect x="588" y="380" width="27" height="2" fill="#0000FF"/>
<path d="M598 350h1v2h-1zM598 354h1v2h-1zM603 350h1v2h-1zM603 354h1v2h-1z" fill="#E3EBF6"/>
<text x="0 9" y="0" fill="#000080" stroke="#000080" transform="translate(326.723 348.731)">C1</text>
<text x="0 9" y="0" fill="#000080" stroke="#000080" transform="translate(487.043 380.795)">C2</text>
<text x="0 9" y="0" fill="#000080" stroke="#000080" transform="translate(551.171 380.795)">C3</text>
<text x="0 9" y="0" fill="#000080" stroke="#000080" transform="translate(615.299 380.795)">C4</text>
<rect x="279" y="401" width="34" height="2" fill="#000080"/>
<rect x="440" y="401" width="34" height="2" fill="#000080"/>
<rect x="504" y="401" width="34" height="2" fill="#000080"/>
<rect x="568" y="401" width="34" height="2" fill="#000080"/>
<rect x="136" y="337" width="48" height="2" fill="#000080"/>
<rect x="184" y="337" width="16" height="2" fill="#000000"/>
<rect x="231" y="337" width="18" height="2" fill="#000000"/>
<rect x="200" y="331" width="31" height="12" fill="none" stroke="#0000FF" stroke-width="2"/>
<text x="0 9" y="0" fill="#000080" stroke="#000080" transform="translate(200.299 328.115)">R9</text>
<path d="M181 335h2v1h-2zM185 335h2v1h-2zM181 340h2v1h-2zM185 340h2v1h-2z" fill="#E3EBF6"/>
<path d="M245 335h2v1h-2zM249 335h2v1h-2zM245 340h2v1h-2zM249 340h2v1h-2z" fill="#E3EBF6"/>
<circle cx="248" cy="338" r="3" fill="#000080" class="aa"/>
<path d="M133 335h2v1h-2zM137 335h2v1h-2zM133 340h2v1h-2zM137 340h2v1h-2z" fill="#E3EBF6"/>
<text x="0 10 19 28" y="0" fill="#800000" stroke="#800000" transform="translate(135.971 334.315)">VREG</text>
<rect x="183" y="-2" width="2" height="276" fill="#000000"/>
<rect x="664" y="-2" width="2" height="276" fill="#000000"/>
<rect x="183" y="272" width="483" height="2" fill="#000000"/>
<text x="0 7 14 24 35 39 44 51 58 65 72 77 81 89 96" y="0" fill="#000080" stroke="#000080" transform="translate(232.5 77.8)">10KΩ (1002) ±1%</text>
<text x="0 7 14 21 32 36 41 48 55 62 69 74 78 86 93" y="0" fill="#000080" stroke="#000080" transform="translate(184 158)">100Ω (1000) ±1%</text>
<text x="0 7 14 21 32 36 41 48 55 62 69 74 78 86 93" y="0" fill="#000080" stroke="#000080" transform="translate(184 190)">100Ω (1000) ±1%</text>
<text x="0 7 14 21 32 36 41 48 55 62 69 74 78 86 93" y="0" fill="#000080" stroke="#000080" transform="translate(184 222)">100Ω (1000) ±1%</text>
<text x="0 7 14 24 35 39 44 51 58 65 72 77 81 89 96" y="0" fill="#000080" stroke="#000080" transform="translate(168 431)">10KΩ (1002) ±1%</text>
<text x="0 7 14 22 26 31 38 45 52 57 61 68 75 87 91 98 105" y="0" fill="#000080" stroke="#000080" transform="translate(280.6 431)">1uF (105) 10% 50V</text>
<text x="0 7 14 22 26 31 38 45 52 57 61 68 75 87 91 98 105" y="0" fill="#000080" stroke="#000080" transform="translate(409 431)">1nF (102) 10% 50V</text>
<text x="0 7 14 22 26 31 38 45 52 57 61 68 75 87 91 98 105" y="0" fill="#000080" stroke="#000080" transform="translate(521 447)">1nF (102) 10% 50V</text>
<text x="0 7 14 22 26 31 38 45 52 57 61 68 75 87 91 98 105" y="0" fill="#000080" stroke="#000080" transform="translate(617.4 431)">1nF (102) 10% 50V</text>
<rect x="5" y="446" width="882" height="8" rx="3" ry="3" fill="#C5008A" class="aa"/>
</svg>
</body>
</html>
